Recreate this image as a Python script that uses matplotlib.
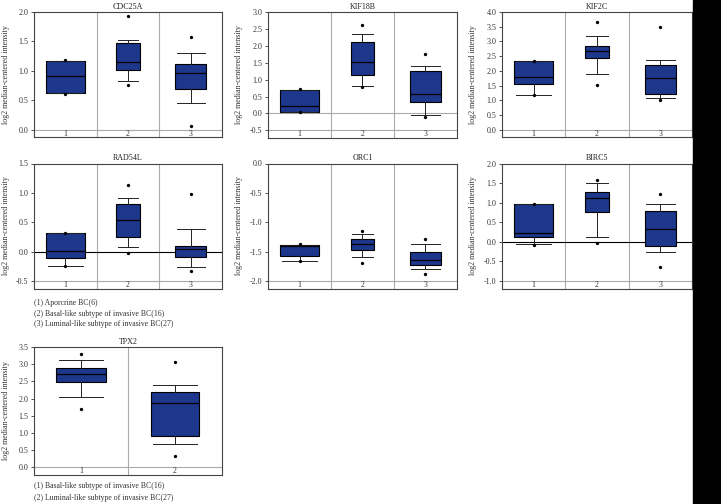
import matplotlib
matplotlib.use("Agg")
import matplotlib.pyplot as plt
from matplotlib.patches import Rectangle
import numpy as np

# each row: (whisker low, q1, median, q3, whisker high, dot low, dot high)
cdc25a = [
    (0.62, 0.63, 0.91, 1.17, 1.17, 0.61, 1.18),
    (0.83, 1.02, 1.15, 1.47, 1.52, 0.76, 1.93),
    (0.46, 0.70, 0.97, 1.12, 1.30, 0.07, 1.57),
]
kif18b = [
    (0.05, 0.05, 0.22, 0.69, 0.69, 0.05, 0.71),
    (0.82, 1.15, 1.51, 2.12, 2.34, 0.78, 2.61),
    (-0.06, 0.35, 0.58, 1.26, 1.39, -0.12, 1.75),
]
kif2c = [
    (1.18, 1.55, 1.81, 2.32, 2.32, 1.18, 2.35),
    (1.88, 2.44, 2.66, 2.84, 3.17, 1.51, 3.66),
    (1.09, 1.20, 1.75, 2.21, 2.36, 1.00, 3.50),
]
rad54l = [
    (-0.24, -0.11, 0.01, 0.31, 0.31, -0.25, 0.32),
    (0.08, 0.24, 0.53, 0.81, 0.91, -0.02, 1.13),
    (-0.27, -0.10, 0.05, 0.10, 0.38, -0.33, 0.98),
]
orc1 = [
    (-1.66, -1.58, -1.40, -1.39, -1.39, -1.66, -1.37),
    (-1.60, -1.47, -1.38, -1.29, -1.20, -1.69, -1.15),
    (-1.80, -1.73, -1.64, -1.50, -1.38, -1.89, -1.29),
]
birc5 = [
    (-0.07, 0.11, 0.23, 0.96, 0.96, -0.08, 0.97),
    (0.11, 0.76, 1.12, 1.28, 1.49, -0.04, 1.58),
    (-0.27, -0.10, 0.32, 0.79, 0.97, -0.65, 1.22),
]
tpx2 = [
    (2.05, 2.47, 2.71, 2.89, 3.13, 1.70, 3.29),
    (0.68, 0.92, 1.86, 2.20, 2.39, 0.33, 3.05),
]

legend_3 = [
    "(1) Aporcrine BC(6)",
    "(2) Basal-like subtype of invasive BC(16)",
    "(3) Luminal-like subtype of invasive BC(27)",
]
legend_2 = [
    "(1) Basal-like subtype of invasive BC(16)",
    "(2) Luminal-like subtype of invasive BC(27)",
]

BLUE = "#1c378b"
GRID = "#aaaaaa"
W, H = 721, 504

plt.rcParams['font.family'] = ['Liberation Serif', 'DejaVu Serif']


def px_rect(left, top, right, bottom):
    return [left / W, 1 - bottom / H, (right - left) / W, (bottom - top) / H]


def draw_panel(fig, rect, title, stats, ylo, yhi, gray_lines=(), dark_zero=False):
    ax = fig.add_axes(rect)
    n = len(stats)
    widths = [0.62, 0.37, 0.5] if n == 3 else [0.53, 0.51]
    bstats = []
    for lo, q1, med, q3, hi, dlo, dhi in stats:
        bstats.append(dict(whislo=lo, q1=q1, med=med, q3=q3, whishi=hi,
                           fliers=[dlo, dhi]))
    ax.bxp(bstats, positions=range(1, n + 1), widths=widths,
           capwidths=[w * 0.9 for w in widths], patch_artist=True,
           boxprops=dict(facecolor=BLUE, edgecolor="black", linewidth=0.8),
           medianprops=dict(color="black", linewidth=0.9),
           whiskerprops=dict(color="#222222", linewidth=0.7),
           capprops=dict(color="#222222", linewidth=0.7),
           flierprops=dict(marker="o", markersize=2.4, markerfacecolor="black",
                           markeredgecolor="none"))

    span = yhi - ylo
    ax.set_ylim(ylo - 0.065 * span, yhi)
    ax.set_xlim(0.5, n + 0.5)
    for i in range(1, n):
        ax.axvline(i + 0.5, color=GRID, lw=0.8, zorder=0)
    ax.axhline(ylo, color=GRID, lw=0.8, zorder=0)
    for g in gray_lines:
        ax.axhline(g, color=GRID, lw=0.8, zorder=0)
    if dark_zero:
        ax.axhline(0, color="black", lw=0.8, zorder=0.5)

    ax.set_xticks([])
    for i in range(1, n + 1):
        ax.text(i, 0.028, str(i), transform=ax.get_xaxis_transform(),
                ha="center", va="center", fontsize=5.6, color="#333333")

    ticks = np.arange(ylo, yhi + 0.01, 0.5)
    ax.set_yticks(ticks)
    ax.set_yticklabels(["%.1f" % t for t in ticks])
    ax.tick_params(axis="y", labelsize=5.8, length=2.5, width=0.6,
                   pad=1.5, colors="#333333")
    for sp in ax.spines.values():
        sp.set_color("#444444")
        sp.set_linewidth(0.8)

    ax.set_ylabel("log2 median-centered intensity", fontsize=5.8, color="#333333")
    ax.yaxis.set_label_coords(-0.13, 0.5)
    ax.set_title(title, fontsize=5.8, pad=2.5, color="#222222")
    return ax


fig = plt.figure(figsize=(W / 100, H / 100), dpi=100)

draw_panel(fig, px_rect(34, 12, 222, 137.5), "CDC25A", cdc25a, 0.0, 2.0)
draw_panel(fig, px_rect(268, 12, 457, 138), "KIF18B", kif18b, -0.5, 3.0,
           gray_lines=[0.0])
draw_panel(fig, px_rect(502, 12, 692, 137.5), "KIF2C", kif2c, 0.0, 4.0)

draw_panel(fig, px_rect(34, 163.5, 222, 288.5), "RAD54L", rad54l, -0.5, 1.5,
           dark_zero=True)
draw_panel(fig, px_rect(268, 163.5, 457, 288.5), "ORC1", orc1, -2.0, 0.0)
draw_panel(fig, px_rect(502, 163.5, 692, 288.5), "BIRC5", birc5, -1.0, 2.0,
           dark_zero=True)

draw_panel(fig, px_rect(34, 347, 222, 475), "TPX2", tpx2, 0.0, 3.5)

for k, line in enumerate(legend_3):
    fig.text(34 / W, 1 - (303 + k * 10.5) / H, line, fontsize=5.6,
             va="center", ha="left", color="#333333")
for k, line in enumerate(legend_2):
    fig.text(34 / W, 1 - (486 + k * 12) / H, line, fontsize=5.6,
             va="center", ha="left", color="#333333")

# black strip on the right edge
fig.add_artist(Rectangle((693 / W, 0), 1 - 693 / W, 1,
                         transform=fig.transFigure, color="black", zorder=10))

fig.savefig("out.png", dpi=100)
